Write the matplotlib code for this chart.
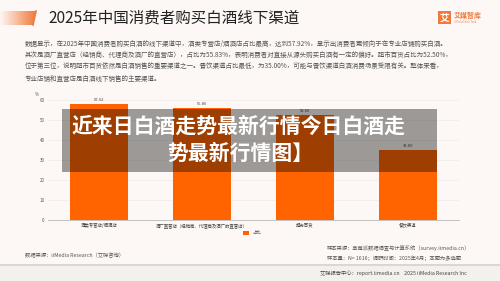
import matplotlib
matplotlib.use('Agg')
import matplotlib.pyplot as plt
import numpy as np
from matplotlib.patches import Rectangle, Polygon
from matplotlib.colors import LinearSegmentedColormap

plt.rcParams['font.family'] = ['Noto Sans CJK SC', 'DejaVu Sans']

# data
categories = ['酒类专营店/烟酒店', '酒厂直营店（经销商、代理商及酒厂的直营店）', '超市百货', '餐饮渠道']
values = [57.92, 55.80, 52.50, 35.00]
value_labels = ['57.92', '55.80', '52.50', '35.00']
yticks = [0, 10, 20, 30, 40, 50, 60]
series_name = '占比'

title = '2025年中国消费者购买白酒线下渠道'
paragraph = [
    '数据显示，在2025年中国消费者购买白酒的线下渠道中，酒类专营店/烟酒店占比最高，达到57.92%，显示出消费者更倾向于在专业店铺购买白酒。',
    '其次是酒厂直营店（经销商、代理商及酒厂的直营店），占比为55.83%，表明消费者对直接从源头购买白酒有一定的偏好。超市百货占比为52.50%，',
    '位于第三位，说明超市百货依然是白酒销售的重要渠道之一。餐饮渠道占比最低，为35.00%，可能与餐饮渠道白酒消费场景受限有关。整体来看，',
    '专业店铺和直营店是白酒线下销售的主要渠道。',
]
banner = ['近来日白酒走势最新行情今日白酒走', '势最新行情图】']

orange = '#ff6400'
card = '#fdf8f5'

W, H = 500, 281
fig = plt.figure(figsize=(5, 2.81), dpi=100, facecolor='#f4f0ee')

# card background
fig.patches.append(Rectangle((0, 1 - 264 / H), 1, 264 / H, transform=fig.transFigure,
                             facecolor=card, edgecolor='none', zorder=-2))
fig.patches.append(Rectangle((0, 1 - 265.5 / H), 1, 1.5 / H, transform=fig.transFigure,
                             facecolor='#dcd6d3', edgecolor='none', zorder=-2))

# chart
ax = fig.add_axes([47.5 / W, 61 / H, 412 / W, 120 / H])
ax.set_facecolor('none')
x = np.arange(len(categories))
ax.bar(x, values, width=0.57, color=orange, zorder=2, label=series_name)
for xi, v, t in zip(x, values, value_labels):
    ax.text(xi, v + 1.2, t, ha='center', va='bottom', fontsize=3, color='#444')
ax.set_xlim(-0.5, len(categories) - 0.5)
ax.set_ylim(0, 60)
ax.set_yticks(yticks)
ax.set_yticklabels([str(t) for t in yticks], fontsize=3.2, color='#555')
ax.set_xticks(x)
ax.set_xticklabels(categories, fontsize=3.2, color='#444')
ax.tick_params(length=0, pad=2)
ax.grid(axis='y', color='#efeae7', linewidth=0.5, zorder=0)
for s in ['top', 'right', 'left']:
    ax.spines[s].set_visible(False)
ax.spines['bottom'].set_color('#aaaaaa')
ax.spines['bottom'].set_linewidth(0.5)
ax.text(-0.02, 1.03, '%', transform=ax.transAxes, fontsize=3.2, color='#555', ha='right')
ax.legend(loc='center', bbox_to_anchor=(252 / W, 1 - 233 / H), bbox_transform=fig.transFigure,
          frameon=False, fontsize=3.2, handlelength=1.2, handleheight=0.8, labelcolor='#555')

# decorations on top
fg = fig.add_axes([0, 0, 1, 1])
fg.axis('off')
fg.patch.set_alpha(0)

# title gradient bar
grad = np.linspace(0, 1, 100).reshape(1, -1)
cmap = LinearSegmentedColormap.from_list('g', [card, '#f07a3c'])
im = fg.imshow(grad, extent=(0, 36, 25, 11), cmap=cmap, aspect='auto', zorder=1)
im.set_clip_path(Polygon([(0, 11), (36, 11), (33, 25), (0, 25)], closed=True,
                         transform=fg.transData))
fg.plot([36, 33], [11, 25], color='#f07a3c', linewidth=1.2, zorder=2)
fg.text(48, 18, title, fontsize=11.2, color='#222', va='center', ha='left')
fg.set_xlim(0, W)
fg.set_ylim(H, 0)

# logo
fg.add_patch(Rectangle((438, 11), 13, 13, facecolor='#f07a3c', edgecolor='none'))
fg.text(444.5, 17.5, '艾', fontsize=7, color='white', ha='center', va='center', fontweight='bold')
fg.text(454, 15.5, '艾媒智库', fontsize=5, color='#f07a3c', ha='left', va='center', fontweight='bold')
fg.text(454, 22, 'iiMedia Think Tank', fontsize=1.8, color='#f07a3c', ha='left', va='center')

# paragraph
for i, line in enumerate(paragraph):
    fg.text(25, 43.5 + i * 11.7, line, fontsize=4.7, color='#555', ha='left', va='center')

# footnotes
fg.text(25, 255, '数据来源：iiMedia Research（艾媒咨询）', fontsize=3.8, color='#555', va='center')
fg.text(327, 248, '样本来源：草莓派数据调查与计算系统（survey.iimedia.cn）', fontsize=3.8, color='#555', va='center')
fg.text(327, 258, '样本量：N= 1616；调研时间：2025年4月；本题为多选题', fontsize=3.8, color='#555', va='center')
fg.text(320, 273, '艾媒报告中心：report.iimedia.cn    2025 iiMedia Research Inc', fontsize=3.8, color='#444', va='center')

# banner overlay
fg.add_patch(Rectangle((62, 109), 375, 63, facecolor='black', alpha=0.38, edgecolor='none', zorder=5))
fg.text(239, 126.5, banner[0], fontsize=15, color='white', fontweight='heavy',
        ha='center', va='center', zorder=6)
fg.text(240, 153.5, banner[1], fontsize=15, color='white', fontweight='heavy',
        ha='center', va='center', zorder=6)

fig.savefig('out.png', dpi=100, facecolor=fig.get_facecolor())
